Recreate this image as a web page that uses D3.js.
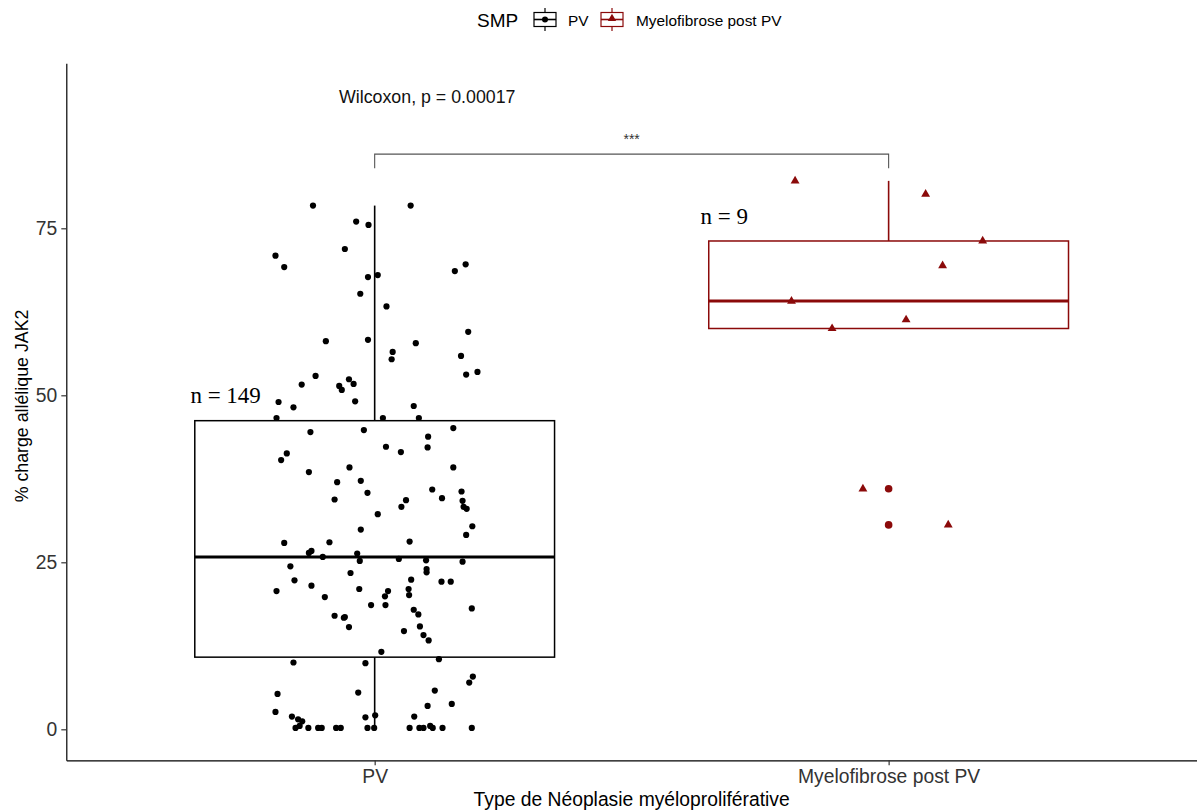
<!DOCTYPE html>
<html><head><meta charset="utf-8">
<script src="https://cdn.jsdelivr.net/npm/d3@7"></script>
<style>body{margin:0;background:#fff} svg{display:block} text{font-family:"Liberation Sans",Arial,sans-serif}</style>
</head><body><svg id="c" width="1197" height="812"></svg>
<script>
const categories = ["PV", "Myelofibrose post PV"];
const seriesColors = ["#000000", "#8B0A0A"];
const yTicks = [0, 25, 50, 75];

// PV : % charge allélique (values) and horizontal jitter (category units)
const pvValues = [78.4,78.4,76.0,75.5,70.9,69.2,71.9,67.7,68.0,65.2,63.3,68.6,69.6,58.1,58.3,57.8,59.5,56.5,55.4,55.9,
53.1,53.5,52.9,51.6,51.4,50.8,52.4,51.7,49.0,48.2,49.1,48.4,46.6,46.6,46.6,44.5,44.8,43.8,45.1,42.3,
41.5,42.2,41.3,40.3,38.5,39.2,39.2,37.0,37.2,35.4,34.4,35.9,35.6,34.6,34.3,33.3,34.2,33.3,33.0,32.2,
30.4,29.1,29.9,27.9,28.0,28.1,26.4,26.7,25.8,26.3,25.2,25.5,25.3,25.1,24.4,23.4,24.0,23.5,20.7,22.3,
21.5,19.8,21.0,18.6,19.9,20.7,18.6,22.4,21.0,20.1,22.1,22.1,18.1,17.0,16.7,16.8,15.3,17.9,17.2,14.7,
15.4,14.1,13.3,11.6,10.0,9.9,10.5,7.9,7.0,5.3,5.5,5.8,3.5,3.8,2.6,1.9,1.5,1.2,1.8,2.1,
1.9,0.2,0.5,0.2,0.2,0.2,0.2,0.2,0.2,0.2,0.2,0.2,0.2,0.5,0.2,0.2,0.2];
const pvJitter = [-0.120,0.070,-0.036,-0.012,-0.193,-0.176,-0.058,-0.013,0.006,-0.028,0.023,0.156,0.177,-0.095,-0.013,0.080,0.182,0.035,0.033,0.168,
0.178,0.200,-0.115,-0.142,-0.069,-0.064,-0.050,-0.041,-0.187,-0.158,-0.038,0.076,-0.191,0.016,0.086,-0.125,-0.021,0.104,0.153,0.022,
0.051,0.103,-0.171,-0.182,-0.128,-0.049,0.153,-0.073,-0.027,-0.014,-0.078,0.112,0.169,0.131,0.061,0.052,0.171,0.173,0.179,0.006,
0.190,0.178,-0.027,-0.176,-0.088,0.068,-0.128,-0.123,-0.101,-0.034,-0.029,0.047,0.100,0.171,-0.164,-0.047,0.101,0.101,-0.191,-0.156,
-0.123,-0.097,-0.030,-0.007,0.020,0.026,0.021,0.071,0.066,0.067,0.130,0.148,0.189,-0.078,-0.060,-0.058,-0.050,0.076,0.085,0.057,
0.088,0.095,0.105,0.013,-0.158,-0.018,0.125,0.191,0.184,-0.189,-0.032,0.117,0.103,0.150,-0.193,-0.161,-0.149,-0.141,-0.018,0.001,
0.077,-0.154,-0.146,-0.129,-0.110,-0.103,-0.075,-0.066,-0.014,-0.001,0.068,0.087,0.095,0.108,0.113,0.132,0.189];

// Myelofibrose post PV
const mfValues = [82.1,80.1,73.1,69.4,64.1,61.3,60.0,36.0,30.6];
const mfJitter = [-0.182,0.072,0.183,0.105,-0.189,0.034,-0.110,-0.050,0.116];

// Boxplot statistics per category
const boxQ1 = [10.8, 60.0];
const boxMedian = [25.8, 64.1];
const boxQ3 = [46.2, 73.1];
const whiskerLow = [0, 60.0];
const whiskerHigh = [78.4, 82.1];
const outliers = [[], [36.0, 30.6]];

const nLabels = ["n = 149", "n = 9"];
const nLabelY = [50, 76.7];
const testLabel = "Wilcoxon, p = 0.00017";
const signifLabel = "***";

const svg = d3.select("#c");
const x = d3.scaleLinear().domain([0.4, 2.6]).range([66.3, 1197]);
const y = d3.scaleLinear().domain([-4.64, 99.7]).range([760.3, 63.3]);
const unit = x(2) - x(1);
const boxW = 0.7 * unit;

// axes
const yAxis = svg.append("g").attr("transform", `translate(${x(0.4)},0)`)
  .call(d3.axisLeft(y).tickValues(yTicks).tickSize(5).tickSizeOuter(0).tickPadding(4));
const xAxis = svg.append("g").attr("transform", `translate(0,${y(-4.64)})`)
  .call(d3.axisBottom(x).tickValues([1, 2]).tickFormat(d => categories[d - 1]).tickSize(5).tickSizeOuter(0).tickPadding(4));
[yAxis, xAxis].forEach(g => {
  g.select(".domain").attr("stroke", "#000").attr("stroke-width", 1.2);
  g.selectAll(".tick line").attr("stroke", "#333").attr("stroke-width", 1.2);
  g.selectAll(".tick text").attr("fill", "#333").style("font-size", "19.3px").style("font-family", "Liberation Sans, Arial");
});

svg.append("text").attr("x", x(1.5)).attr("y", 806).attr("text-anchor", "middle")
  .style("font-size", "19.3px").attr("fill", "#000").text("Type de Néoplasie myéloproliférative");
svg.append("text").attr("transform", `translate(28,${y(48.4)}) rotate(-90)`).attr("text-anchor", "middle")
  .style("font-size", "17.8px").attr("fill", "#000").text("% charge allélique JAK2");

// boxplots
const boxes = svg.append("g");
categories.forEach((c, i) => {
  const cx = x(i + 1), col = seriesColors[i];
  const g = boxes.append("g").attr("stroke", col).attr("fill", "none");
  g.append("line").attr("x1", cx).attr("x2", cx).attr("y1", y(boxQ3[i])).attr("y2", y(whiskerHigh[i])).attr("stroke-width", 1.6);
  g.append("line").attr("x1", cx).attr("x2", cx).attr("y1", y(boxQ1[i])).attr("y2", y(whiskerLow[i])).attr("stroke-width", 1.6);
  g.append("rect").attr("x", cx - boxW / 2).attr("width", boxW)
    .attr("y", y(boxQ3[i])).attr("height", y(boxQ1[i]) - y(boxQ3[i])).attr("stroke-width", 1.5).attr("fill", "#fff").attr("fill-opacity", 0);
  g.append("line").attr("x1", cx - boxW / 2).attr("x2", cx + boxW / 2).attr("y1", y(boxMedian[i])).attr("y2", y(boxMedian[i])).attr("stroke-width", 3);
  outliers[i].forEach(v => {
    boxes.append("circle").attr("cx", cx).attr("cy", y(v)).attr("r", 3.8).attr("fill", col);
  });
});

// jittered points
svg.append("g").selectAll("circle").data(pvValues).join("circle")
  .attr("cx", (d, i) => x(1 + pvJitter[i])).attr("cy", d => y(d)).attr("r", 3.1).attr("fill", seriesColors[0]);
const tri = d3.symbol().type(d3.symbolTriangle).size(34);
svg.append("g").selectAll("path").data(mfValues).join("path")
  .attr("d", tri).attr("transform", (d, i) => `translate(${x(2 + mfJitter[i])},${y(d)})`).attr("fill", seriesColors[1]);

// n labels
[[1 - 0.29, 0], [2 - 0.32, 1]].forEach(([xv, i]) => {
  svg.append("text").attr("x", x(xv)).attr("y", y(nLabelY[i])).attr("text-anchor", "middle").attr("dominant-baseline", "central")
    .style("font-family", "Liberation Serif, Times New Roman, serif").style("font-size", "23px").attr("fill", "#000").text(nLabels[i]);
});

// significance
svg.append("text").attr("x", 339).attr("y", y(94.7)).attr("dominant-baseline", "central")
  .style("font-size", "17.8px").attr("fill", "#111").text(testLabel);
svg.append("path").attr("fill", "none").attr("stroke", "#555").attr("stroke-width", 1.1)
  .attr("d", `M${x(1)},${y(84.0)}V${y(86.1)}H${x(2)}V${y(84.0)}`);
svg.append("text").attr("x", x(1.5)).attr("y", y(88.4)).attr("text-anchor", "middle").attr("dominant-baseline", "central")
  .style("font-size", "14px").attr("fill", "#333").text(signifLabel);

// legend
const lg = svg.append("g");
lg.append("text").attr("x", 477).attr("y", 20).attr("dominant-baseline", "central").style("font-size", "19px").attr("fill", "#000").text("SMP");
const keyX = [534, 601], labX = [568, 636];
categories.forEach((c, i) => {
  const col = seriesColors[i], kx = keyX[i], cx = kx + 11;
  const k = lg.append("g").attr("stroke", col).attr("fill", "none");
  k.append("line").attr("x1", cx).attr("x2", cx).attr("y1", 8).attr("y2", 12.5).attr("stroke-width", 1.2);
  k.append("line").attr("x1", cx).attr("x2", cx).attr("y1", 26.5).attr("y2", 31).attr("stroke-width", 1.2);
  k.append("rect").attr("x", kx).attr("y", 12.5).attr("width", 22).attr("height", 14).attr("stroke-width", 1.2);
  k.append("line").attr("x1", kx).attr("x2", kx + 22).attr("y1", 19.5).attr("y2", 19.5).attr("stroke-width", 1.6);
  if (i === 0) lg.append("circle").attr("cx", cx).attr("cy", 19.5).attr("r", 3).attr("fill", col);
  else lg.append("path").attr("d", d3.symbol().type(d3.symbolTriangle).size(30)).attr("transform", `translate(${cx},18.5)`).attr("fill", col);
  lg.append("text").attr("x", labX[i]).attr("y", 20).attr("dominant-baseline", "central").style("font-size", "15.4px").attr("fill", "#000").text(c);
});
</script></body></html>
